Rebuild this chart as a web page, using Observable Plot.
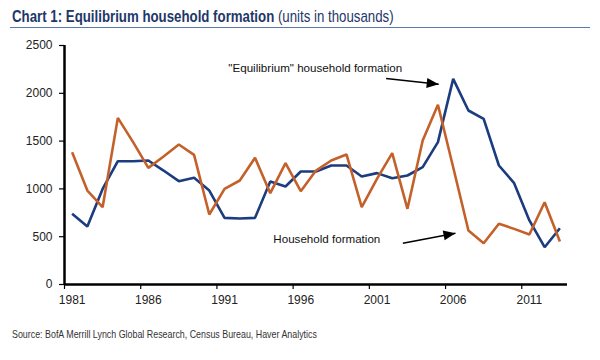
<!DOCTYPE html>
<html>
<head>
<meta charset="utf-8">
<script src="https://cdn.jsdelivr.net/npm/d3@7"></script>
<script src="https://cdn.jsdelivr.net/npm/@observablehq/plot@0.6"></script>
<style>
  html, body { margin: 0; padding: 0; background: #fff; }
  body { width: 600px; height: 360px; overflow: hidden; font-family: "Liberation Sans", Arial, sans-serif; }
  #title { margin: 0 10px; height: 28px; border-bottom: 1px solid #5b78a8; box-sizing: border-box;
           font-family: "Liberation Sans", Arial, sans-serif;
           font-size: 17px; color: #1f3768; line-height: 34px; padding-left: 2px; white-space: nowrap; }
  #title span.t { display: inline-block; transform: scaleX(0.78); transform-origin: 0 50%; }
  #title b { font-weight: bold; }
  #chart { height: 290px; margin-top: 2px; }
  #source { margin: 8px 0 0 12px; font-family: "Liberation Sans", Arial, sans-serif;
            font-size: 10.5px; color: #333; white-space: nowrap; }
  #source span { display: inline-block; transform: scaleX(0.845); transform-origin: 0 50%; }
</style>
</head>
<body>
<div id="title"><span class="t"><b>Chart 1: Equilibrium household formation</b> (units in thousands)</span></div>
<div id="chart"></div>
<div id="source"><span>Source: BofA Merrill Lynch Global Research, Census Bureau, Haver Analytics</span></div>
<script>
const years = d3.range(1981, 2014);
const equilibrium = [740, 607, 1000, 1290, 1290, 1297, 1192, 1081, 1116, 983,
                     697, 690, 697, 1077, 1025, 1182, 1182, 1245, 1245, 1130,
                     1165, 1112, 1140, 1227, 1489, 2151, 1820, 1733, 1245, 1060,
                     670, 390, 589];
const household = [1384, 983, 809, 1743, 1489, 1220, 1339, 1464, 1356, 732,
                   1001, 1088, 1325, 955, 1269, 976, 1192, 1297, 1360, 809,
                   1105, 1374, 792, 1506, 1880, 1227, 565, 432, 635, 582,
                   523, 861, 450];
const xTickLabels = [1981, 1986, 1991, 1996, 2001, 2006, 2011];
const yTicks = [0, 500, 1000, 1500, 2000, 2500];
const seriesNames = ["Equilibrium", "Household formation"];
const seriesColors = ["#1b3c7e", "#c4612b"];

const annotLabels = [
  {text: "\"Equilibrium\" household formation", x: 1991.25, y: 2265},
  {text: "Household formation", x: 1994.2, y: 470}
];
const annotArrows = [
  {x1: 2001.6, y1: 2155, x2: 2005.05, y2: 2095},
  {x1: 2002.7, y1: 432, x2: 2006.15, y2: 537}
];

const rows = [];
years.forEach((yr, i) => {
  rows.push({year: yr, value: equilibrium[i], series: seriesNames[0]});
  rows.push({year: yr, value: household[i], series: seriesNames[1]});
});

const arrowHead = (color) => {
  const m = d3.create("svg:marker")
    .attr("viewBox", "-12 -5 12 10")
    .attr("markerWidth", 12)
    .attr("markerHeight", 10)
    .attr("markerUnits", "userSpaceOnUse")
    .attr("orient", "auto")
    .attr("overflow", "visible")
    .attr("fill", color)
    .attr("stroke", "none");
  m.append("path").attr("d", "M-12,-5L0,0L-12,5Z");
  return m.node();
};

const plot = Plot.plot({
  width: 600,
  height: 290,
  marginTop: 15,
  marginBottom: 36,
  marginLeft: 64,
  marginRight: 33,
  style: {fontFamily: "'Liberation Sans', Arial, sans-serif", fontSize: "12px", color: "#222", background: "#fff"},
  x: {domain: [1980.5, 2013.5]},
  y: {domain: [0, 2500]},
  color: {domain: seriesNames, range: seriesColors},
  marks: [
    Plot.axisY({ticks: yTicks, tickSize: 5, tickPadding: 7, tickFormat: d => String(d), label: null, stroke: "#000", strokeWidth: 1.2}),
    Plot.axisX({ticks: xTickLabels.map(d => d - 0.5), tickSize: 5, tickFormat: () => "", label: null, stroke: "#000", strokeWidth: 1.2}),
    Plot.axisX({ticks: xTickLabels, tickSize: 0, tickPadding: 11, tickFormat: d => String(d), label: null}),
    Plot.ruleY([0], {stroke: "#000", strokeWidth: 2.5}),
    Plot.ruleX([1980.5], {stroke: "#000", strokeWidth: 2.5}),
    Plot.line(rows, {x: "year", y: "value", z: "series", stroke: "series", strokeWidth: 2.6, strokeLinejoin: "miter", strokeLinecap: "butt"}),
    Plot.text(annotLabels, {x: "x", y: "y", text: "text", textAnchor: "start", fontSize: 11.6, fill: "#111"}),
    Plot.link(annotArrows, {x1: "x1", y1: "y1", x2: "x2", y2: "y2", stroke: "#000", strokeWidth: 1.5, markerEnd: arrowHead})
  ]
});
document.getElementById("chart").appendChild(plot);
</script>
</body>
</html>
